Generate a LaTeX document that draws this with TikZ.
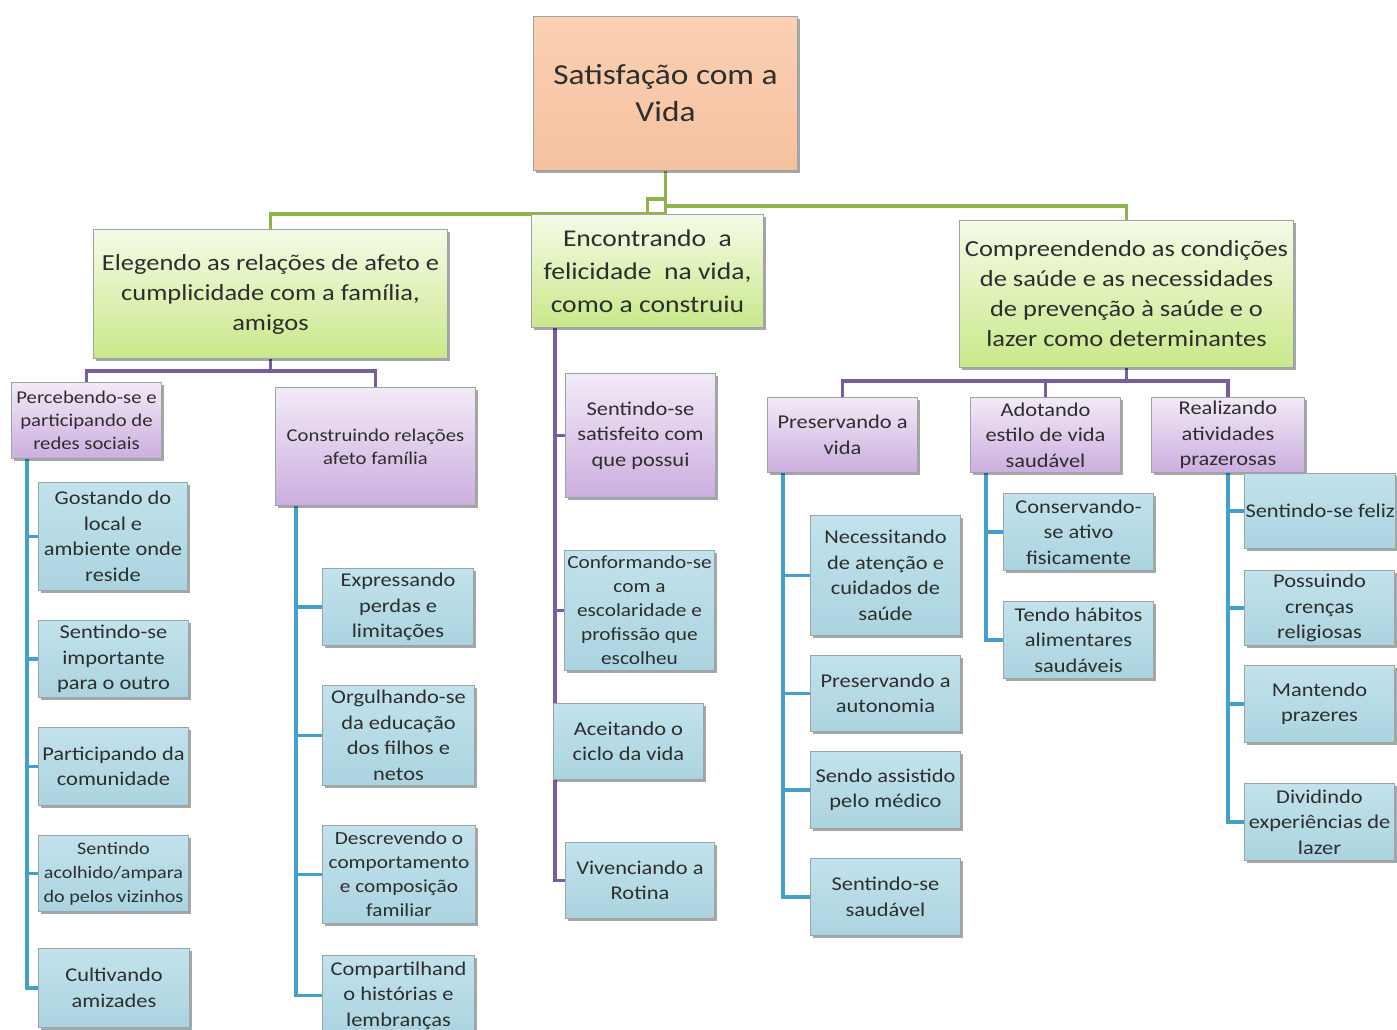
\documentclass[tikz,border=0pt]{standalone}
\usepackage{fontspec}
\setmainfont{Carlito}[FakeStretch=1.15]
\usetikzlibrary{shadows,backgrounds}
\definecolor{txt}{HTML}{2E2E2E}
\definecolor{bord}{HTML}{98A6AA}
\definecolor{peachT}{HTML}{FAD0B3}
\definecolor{peachB}{HTML}{F5C1A0}
\definecolor{gT}{HTML}{F5FBE6}
\definecolor{gB}{HTML}{C9E88A}
\definecolor{pT}{HTML}{F3EAF7}
\definecolor{pB}{HTML}{CBAEDF}
\definecolor{bT}{HTML}{C2E2EC}
\definecolor{bB}{HTML}{ABD4E0}
\definecolor{gline}{HTML}{8FB447}
\definecolor{pline}{HTML}{7A5CA0}
\definecolor{bline}{HTML}{43A0CB}
\begin{document}
\begin{tikzpicture}[x=1pt,y=1pt,
  box/.style={draw=bord, line width=1pt, anchor=north west, align=center, inner sep=1pt, text=txt,
    drop shadow={shadow xshift=2.5pt, shadow yshift=-2.5pt, opacity=0.35, fill=black}},
  rootbox/.style={box, top color=peachT, bottom color=peachB, font=\fontsize{29}{37}\selectfont},
  gbox/.style={box, top color=gT, bottom color=gB, font=\fontsize{23}{30}\selectfont},
  pbox/.style={box, top color=pT, bottom color=pB, font=\fontsize{19.5}{25.5}\selectfont},
  bbox/.style={box, top color=bT, bottom color=bB, font=\fontsize{19.5}{25.5}\selectfont},
  small/.style={font=\fontsize{18}{23}\selectfont},
  gl/.style={draw=gline, line width=3.4pt},
  pl/.style={draw=pline, line width=3.4pt},
  bl/.style={draw=bline, line width=3.4pt}]
\useasboundingbox (0,0) rectangle (1397,-1030);

% level 0 and 1
\node[rootbox, minimum width=264pt, minimum height=154pt] (root) at (533,-16) {Satisfação com a\\Vida};
\node[gbox, minimum width=354pt, minimum height=129pt] (eleg) at (93,-229) {Elegendo as relações de afeto e\\cumplicidade com a família,\\amigos};
\node[gbox, minimum width=232pt, minimum height=113pt, font=\fontsize{24}{33}\selectfont] (enc) at (531,-214) {Encontrando\ \ a\\felicidade\ \ na vida,\\como a construiu};
\node[gbox, minimum width=334pt, minimum height=147pt] (comp) at (959,-220) {Compreendendo as condições\\de saúde e as necessidades\\de prevenção à saúde e o\\lazer como determinantes};

% level 2 (purple)
\node[pbox, small, minimum width=150pt, minimum height=76pt] (perc) at (11,-382) {Percebendo-se e\\participando de\\redes sociais};
\node[pbox, small, minimum width=200pt, minimum height=118pt] (constr) at (275,-387) {Construindo relações\\afeto família};
\node[pbox, minimum width=150pt, minimum height=124pt] (sat) at (565,-373) {Sentindo-se\\satisfeito com\\que possui};
\node[pbox, minimum width=150pt, minimum height=75pt] (pres) at (767,-397) {Preservando a\\vida};
\node[pbox, minimum width=150pt, minimum height=75pt] (adot) at (970,-397) {Adotando\\estilo de vida\\saudável};
\node[pbox, minimum width=153pt, minimum height=75pt] (real) at (1151,-397) {Realizando\\atividades\\prazerosas};

% leaves under Percebendo
\node[bbox, minimum width=149pt, minimum height=108pt] (gost) at (38,-482) {Gostando do\\local e\\ambiente onde\\reside};
\node[bbox, minimum width=150pt, minimum height=77pt] (imp) at (38,-620) {Sentindo-se\\importante\\para o outro};
\node[bbox, minimum width=150pt, minimum height=78pt] (part) at (38,-727) {Participando da\\comunidade};
\node[bbox, minimum width=150pt, minimum height=76pt, font=\fontsize{17.5}{24}\selectfont] (acol) at (38,-835) {Sentindo\\acolhido/ampara\\do pelos vizinhos};
\node[bbox, minimum width=151pt, minimum height=79pt] (cult) at (38,-948) {Cultivando\\amizades};

% leaves under Construindo
\node[bbox, minimum width=151pt, minimum height=77pt] (expr) at (322,-568) {Expressando\\perdas e\\limitações};
\node[bbox, minimum width=152pt, minimum height=100pt] (orgu) at (322,-685) {Orgulhando-se\\da educação\\dos filhos e\\netos};
\node[bbox, minimum width=153pt, minimum height=98pt, font=\fontsize{18.5}{24}\selectfont] (desc) at (322,-825) {Descrevendo o\\comportamento\\e composição\\familiar};
\node[bbox, minimum width=152pt, minimum height=80pt] (compart) at (322,-955) {Compartilhand\\o histórias e\\lembranças};

% leaves under Encontrando
\node[bbox, minimum width=150pt, minimum height=120pt, font=\fontsize{18.5}{24}\selectfont] (conf) at (564,-550) {Conformando-se\\com a\\escolaridade e\\profissão que\\escolheu};
\node[bbox, minimum width=150pt, minimum height=76pt] (acei) at (553,-703) {Aceitando o\\ciclo da vida};
\node[bbox, minimum width=149pt, minimum height=76pt] (viv) at (565,-842) {Vivenciando a\\Rotina};

% leaves under Preservando a vida
\node[bbox, minimum width=150pt, minimum height=120pt] (nec) at (810,-515) {Necessitando\\de atenção e\\cuidados de\\saúde};
\node[bbox, minimum width=150pt, minimum height=76pt] (auton) at (810,-655) {Preservando a\\autonomia};
\node[bbox, minimum width=150pt, minimum height=77pt] (assi) at (810,-751) {Sendo assistido\\pelo médico};
\node[bbox, minimum width=150pt, minimum height=77pt] (saud) at (810,-858) {Sentindo-se\\saudável};

% leaves under Adotando
\node[bbox, minimum width=150pt, minimum height=77pt] (cons) at (1003,-493) {Conservando-\\se ativo\\fisicamente};
\node[bbox, minimum width=150pt, minimum height=77pt] (tend) at (1003,-601) {Tendo hábitos\\alimentares\\saudáveis};

% leaves under Realizando
\node[bbox, minimum width=150pt, minimum height=75pt] (feliz) at (1244,-473) {Sentindo-se feliz};
\node[bbox, minimum width=150pt, minimum height=75pt] (poss) at (1244,-570) {Possuindo\\crenças\\religiosas};
\node[bbox, minimum width=150pt, minimum height=77pt] (mant) at (1244,-665) {Mantendo\\prazeres};
\node[bbox, minimum width=150pt, minimum height=77pt] (divi) at (1244,-783) {Dividindo\\experiências de\\lazer};

\begin{scope}[on background layer]
  \fill[white] (0,0) rectangle (1397,-1030);
  % green
  \draw[gl] (root.south) -- ++(0,-43) -| (eleg.north);
  \draw[gl] (root.south) -- ++(0,-35) -| (comp.north);
  \draw[gl] (enc.north) |- ([yshift=-28pt]root.south);
  % purple
  \draw[pl] (eleg.south) -- ++(0,-12) -| (perc.north);
  \draw[pl] (eleg.south) -- ++(0,-12) -| (constr.north);
  \draw[pl] (comp.south) -- ++(0,-13) -| (pres.north);
  \draw[pl] (comp.south) -- ++(0,-13) -| (adot.north);
  \draw[pl] (comp.south) -- ++(0,-13) -| (real.north);
  \draw[pl] ([xshift=24pt]enc.south west) |- (sat.west);
  \draw[pl] ([xshift=24pt]enc.south west) |- (conf.west);
  \draw[pl] ([xshift=24pt]enc.south west) |- (acei.west);
  \draw[pl] ([xshift=24pt]enc.south west) |- (viv.west);
  % blue
  \foreach \c in {gost,imp,part,acol,cult} \draw[bl] ([xshift=16pt]perc.south west) |- (\c.west);
  \foreach \c in {expr,orgu,desc,compart} \draw[bl] ([xshift=21pt]constr.south west) |- (\c.west);
  \foreach \c in {nec,auton,assi,saud} \draw[bl] ([xshift=16pt]pres.south west) |- (\c.west);
  \foreach \c in {cons,tend} \draw[bl] ([xshift=16pt]adot.south west) |- (\c.west);
  \foreach \c in {feliz,poss,mant,divi} \draw[bl] (real.south) |- (\c.west);
\end{scope}
\end{tikzpicture}
\end{document}
